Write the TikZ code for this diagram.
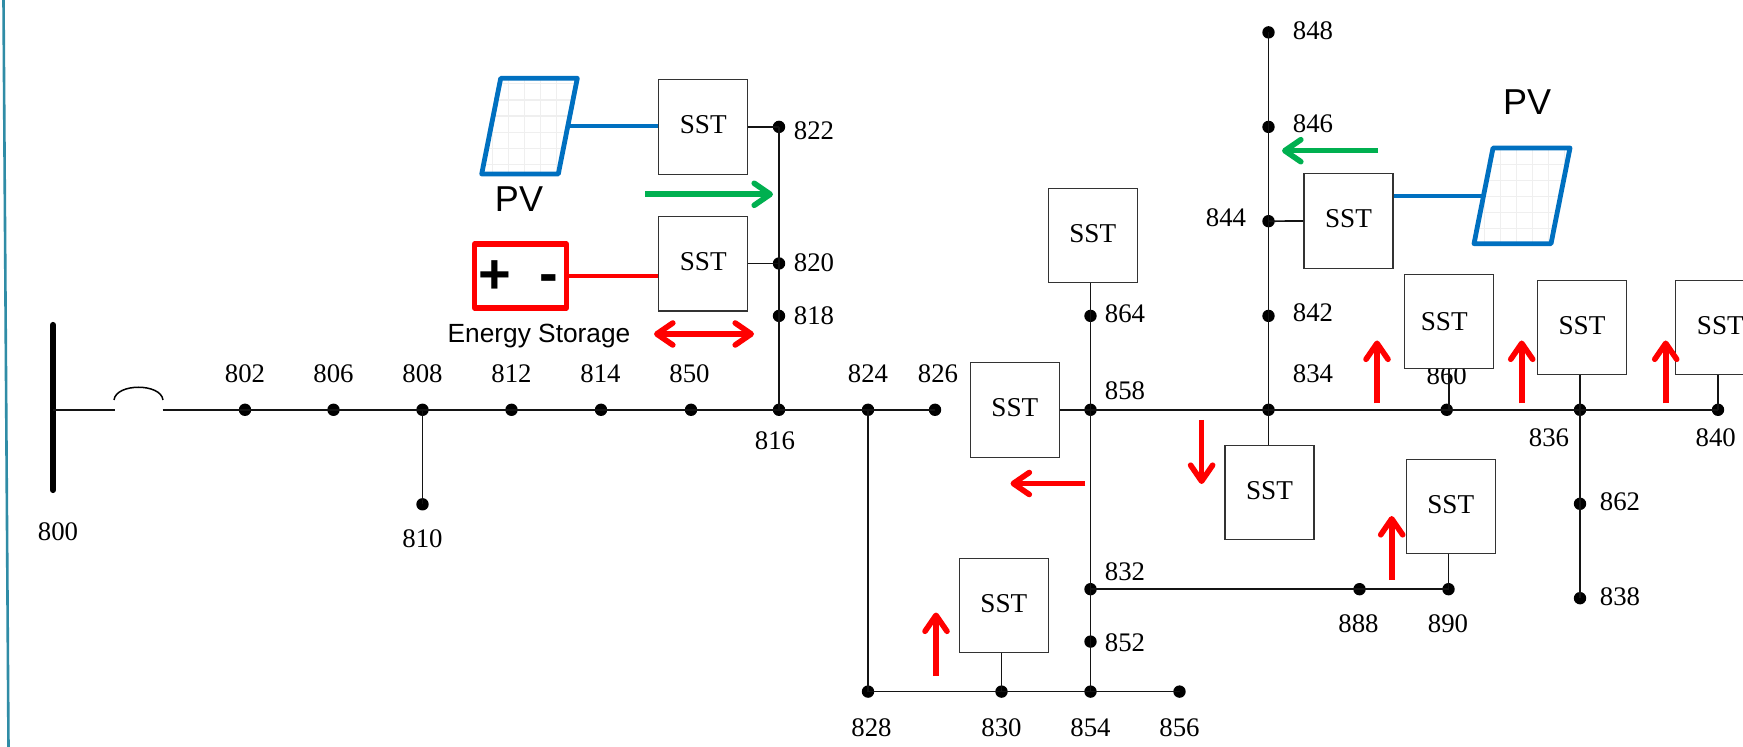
\documentclass[tikz,border=0pt]{standalone}
\usepackage{fontspec}
\setmainfont{Liberation Serif}
\newfontfamily\arialfont{Liberation Sans}
\usetikzlibrary{arrows.meta,calc}
\definecolor{pvblue}{HTML}{0070C0}
\definecolor{flowgreen}{HTML}{00B050}
\definecolor{flowred}{HTML}{FF0000}
\definecolor{edgeteal}{HTML}{2F8CA6}
\definecolor{gridgrey}{HTML}{EFEFEF}
\tikzset{
  x=0.5pt,y=-0.5pt,
  busline/.style={draw=black!92,line width=0.85pt},
  buslabel/.style={inner sep=0pt,yshift=-0.3pt,font=\fontsize{13.4}{14}\selectfont},
  busdot/.style={circle,fill=black,inner sep=0pt,minimum size=6.2pt},
  sstbox/.style={draw=black!80,line width=0.55pt,fill=white,minimum width=44.5pt,minimum height=47.3pt,inner sep=0pt,font=\fontsize{13.6}{14}\selectfont},
  sanslabel/.style={inner sep=0pt,font=\arialfont\fontsize{18}{18}\selectfont},
  flowarrow/.style={line width=2.8pt,-{Straight Barb[round,length=8pt,width=11pt]}},
  flowdouble/.style={line width=2.8pt,{Straight Barb[round,length=8pt,width=11pt]}-{Straight Barb[round,length=8pt,width=11pt]}},
  panel/.style={draw=pvblue,line width=2.4pt,line join=round},
  wirepv/.style={draw=pvblue,line width=2pt},
  wirees/.style={draw=flowred,line width=2pt},
}
\begin{document}
\begin{tikzpicture}
\useasboundingbox (0,0) rectangle (1743,747);
\clip (0,0) rectangle (1743,747);
\fill[white] (0,0) rectangle (1743,747);
% page edge
\coordinate (edgeT) at (3.5,0);
\coordinate (edgeB) at (8.5,747);
\draw[edgeteal,line width=1.3pt] (edgeT) -- (edgeB);
% labels
\foreach \t/\x/\y in {802/245/373,806/333.5/373,808/422.5/373,812/511.5/373,814/600.5/373,850/689.5/373,824/868/373,826/938/373,816/775/440,810/422.5/538,800/58/531,822/814/130,820/814/262,818/814/315,858/1125/390,864/1125/313.5,848/1313/30,846/1313/123,844/1226/217,842/1313/312,834/1313/373.5,860/1446.7/375,836/1549/437.3,840/1715.7/437.3,862/1620/501.5,838/1620/596,832/1125/571.5,852/1125/642.5,888/1358.5/623.6,890/1448/623.6,828/871.5/727,830/1001.5/727,854/1090.5/727,856/1179.5/727}
  \node[buslabel] (lab\t) at (\x,\y) {\t};
% bus dots
\foreach \n/\x/\y in {802/245/409.8,806/333.5/409.8,808/422.5/409.8,812/511.5/409.8,814/601/409.8,850/691/409.8,816/779/409.8,824/868/409.8,826/935/409.8,858/1090.5/409.8,834/1268.5/409.8,860/1446.7/409.8,836/1580/409.8,840/1718/409.8,810/422.5/504.3,822/779/126.9,820/779/263.5,818/779/315.9,864/1090.5/315.9,848/1268.5/32.4,846/1268.5/126.9,844/1268.5/221.2,842/1268.5/315.9,832/1090.5/589.2,852/1090.5/641.6,854/1090.5/691.6,856/1179.5/691.6,830/1001.5/691.6,828/868/691.6,888/1359.5/589.2,890/1448.5/589.2,862/1580/503.8,838/1580/598.2}
  \node[busdot] (n\n) at (\x,\y) {};
% source bar and regulator
\coordinate (barT) at (53,325);
\coordinate (barB) at (53,490);
\coordinate (barM) at (53,409.8);
\coordinate (regL) at (114.5,409.8);
\coordinate (regR) at (162.5,409.8);
\coordinate (arcL) at (114,400);
\coordinate (arcR) at (163,400);
\draw[line width=3.1pt,line cap=round] (barT) -- (barB);
\draw[busline] (barM) -- (regL);
\draw[busline] (regR) -- (n802.center);
\draw[line width=0.75pt] (arcL) .. controls (116,383) and (161,383) .. (arcR);
% SST boxes
\node[sstbox] (sstA) at (703.2,126.9) {\raisebox{2pt}{SST}};
\node[sstbox] (sstB) at (703.2,263.7) {\raisebox{2pt}{SST}};
\node[sstbox] (sstC) at (1092.7,235.6) {\raisebox{2pt}{SST}};
\node[sstbox] (sstD) at (1014.9,409.8) {\raisebox{2pt}{SST}};
\node[sstbox] (sstE) at (1269.5,492.4) {\raisebox{1.5pt}{SST}};
\node[sstbox] (sstF) at (1348.5,221) {\raisebox{2pt}{SST}};
\node[sstbox] (sstG) at (1448.7,321.6) {\raisebox{-0.2pt}{SST\hspace*{4.5pt}}};
\node[sstbox] (sstH) at (1582,327.4) {\raisebox{2pt}{SST}};
\node[sstbox] (sstI) at (1720.4,327.4) {\raisebox{2pt}{SST}};
\node[sstbox] (sstJ) at (1450.7,506.6) {\raisebox{2pt}{SST}};
\node[sstbox] (sstK) at (1003.8,605.6) {\raisebox{2pt}{SST}};
% feeders
\begin{scope}[busline]
\draw (n802.center) -- (n826.center);
\draw (sstD.east) -- (n840.center);
\draw (n808.center) -- (n810.center);
\draw (n822.center) -- (n816.center);
\draw (sstA.east |- n822) -- (n822.center);
\draw (sstB.east |- n820) -- (n820.center);
\draw (n824.center) -- (n828.center);
\draw (n828.center) -- (n856.center);
\draw (n858 |- sstC.south) -- (n854.center);
\draw (n848.center) -- (n834 |- sstE.north);
\draw (n844.center) -- (sstF.west);
\draw (n832.center) -- (n890.center);
\draw (sstJ.south -| n890) -- (n890.center);
\draw (n836 |- sstH.south) -- (n838.center);
\draw (n840 |- sstI.south) -- (n840.center);
\draw (sstG.south) -- (sstG.south |- n860);
\draw (n830 |- sstK.south) -- (n830.center);
\end{scope}
% left PV
\coordinate (pa) at (500.7,78.3);
\coordinate (pb) at (577.3,78.3);
\coordinate (pc) at (558.3,174);
\coordinate (pd) at (481.7,174);
\begin{scope}
\clip (pa) -- (pb) -- (pc) -- (pd) -- cycle;
\foreach \x in {492.3,508.3,524.3,540.3,556.3} \draw[gridgrey,line width=0.6pt] (\x,70) -- (\x,180);
\foreach \y in {83.3,100,116,132.3,148.3,164.3} \draw[gridgrey,line width=0.6pt] (475,\y) -- (585,\y);
\end{scope}
\draw[panel] (pa) -- (pb) -- (pc) -- (pd) -- cycle;
\coordinate (pvLwire) at (570,126);
\draw[wirepv] (pvLwire) -- (sstA.west |- pvLwire);
\node[sanslabel] (pvL) at (519,199) {PV};
% right PV
\coordinate (qa) at (1493,148);
\coordinate (qb) at (1570,148);
\coordinate (qc) at (1551,243.7);
\coordinate (qd) at (1474,243.7);
\begin{scope}
\clip (qa) -- (qb) -- (qc) -- (qd) -- cycle;
\foreach \x in {1484.3,1500.3,1516.3,1532.3,1548.3,1564.3} \draw[gridgrey,line width=0.6pt] (\x,140) -- (\x,250);
\foreach \y in {164.3,180.3,196.3,212.3,228.3} \draw[gridgrey,line width=0.6pt] (1465,\y) -- (1580,\y);
\end{scope}
\draw[panel] (qa) -- (qb) -- (qc) -- (qd) -- cycle;
\coordinate (pvRwire) at (1481.7,196);
\draw[wirepv] (sstF.east |- pvRwire) -- (pvRwire);
\node[sanslabel] (pvR) at (1527,102) {PV};
% energy storage
\node[draw=flowred,line width=2.6pt,line join=round,minimum width=45.8pt,minimum height=32pt,inner sep=0pt] (bat) at (520.5,276) {};
\node[inner sep=0pt,font=\arialfont\bfseries\fontsize{28}{28}\selectfont] (batP) at (495,277) {+};
\node[inner sep=0pt,font=\arialfont\bfseries\fontsize{28}{28}\selectfont] (batM) at (549,284) {-};
\coordinate (batW) at (566.7,275.7);
\draw[wirees] (batW) -- (sstB.west |- batW);
\node[inner sep=0pt,font=\arialfont\fontsize{13.15}{14}\selectfont] (esl) at (539,336.5) {Energy Storage};
% flow arrows
\coordinate (g1a) at (645,194.3); \coordinate (g1b) at (773,194.3);
\coordinate (g2a) at (1378,150.7); \coordinate (g2b) at (1282,150.7);
\coordinate (d1a) at (654,334); \coordinate (d1b) at (754,334);
\coordinate (r1a) at (1377,403.5); \coordinate (r1b) at (1377,340.5);
\coordinate (r2a) at (1521.7,403.5); \coordinate (r2b) at (1521.7,340.5);
\coordinate (r3a) at (1665.7,403.5); \coordinate (r3b) at (1665.7,340.5);
\coordinate (r4a) at (1201.6,420); \coordinate (r4b) at (1201.6,484);
\coordinate (r5a) at (1085,483.5); \coordinate (r5b) at (1010.5,483.5);
\coordinate (r6a) at (1391.7,580); \coordinate (r6b) at (1391.7,516);
\coordinate (r7a) at (936,676); \coordinate (r7b) at (936,612.5);
\draw[flowarrow,flowgreen] (g1a) -- (g1b);
\draw[flowarrow,flowgreen] (g2a) -- (g2b);
\draw[flowdouble,flowred] (d1a) -- (d1b);
\foreach \k in {1,...,7} \draw[flowarrow,flowred] (r\k a) -- (r\k b);
\end{tikzpicture}
\end{document}
